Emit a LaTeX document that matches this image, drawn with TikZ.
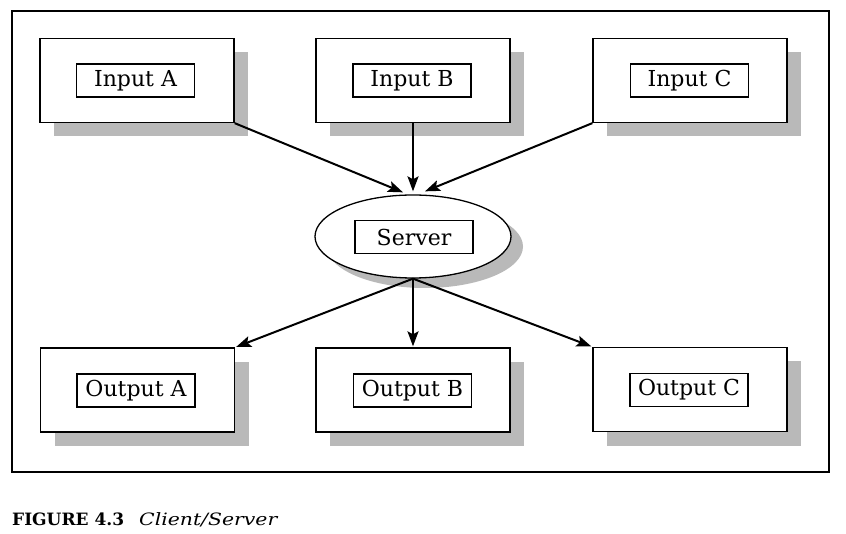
\documentclass[tikz,border=0pt]{standalone}
\usepackage{fontspec}
\setmainfont{DejaVu Serif}
\usetikzlibrary{arrows.meta,shapes.geometric,calc,shadows}
\begin{document}
\begin{tikzpicture}[x=1pt,y=-1pt,
  shad/.style={drop shadow={shadow xshift=14pt, shadow yshift=-14pt, fill=gray!55, opacity=1}},
  outerbox/.style={draw, line width=1.3pt, fill=white, minimum width=194pt, minimum height=84pt, inner sep=0pt, shad},
  innerbox/.style={draw, line width=1.1pt, fill=white, minimum width=118pt, minimum height=33pt, inner sep=0pt, font=\fontsize{22}{24}\selectfont},
  arr/.style={line width=2pt, -{Stealth[length=15pt,width=11pt,inset=3pt]}},
]
\useasboundingbox (0,0) rectangle (846,534);
\draw[line width=2pt] (12,11) rectangle (829,472);

% input boxes
\node[outerbox] (inA) at (137,80.5) {};
\node[outerbox] (inB) at (413,80.5) {};
\node[outerbox] (inC) at (690,80.5) {};
\node[innerbox] (inAl) at (135.5,80.5) {Input A};
\node[innerbox] (inBl) at (412,80.5) {Input B};
\node[innerbox] (inCl) at (689.5,80.5) {Input C};

% server
\node[ellipse, draw, line width=1.3pt, fill=white, minimum width=196pt, minimum height=83pt,
      drop shadow={shadow xshift=12pt, shadow yshift=-10pt, fill=gray!55, opacity=1}] (server) at (413,236.5) {};
\node[innerbox] (serverl) at (414,237) {Server};

% output boxes
\node[outerbox] (outA) at (137.5,390) {};
\node[outerbox] (outB) at (413,390) {};
\node[outerbox] (outC) at (690,389.5) {};
\node[innerbox] (outAl) at (136,390.5) {Output A};
\node[innerbox] (outBl) at (412.5,390.5) {Output B};
\node[innerbox] (outCl) at (689,390) {Output C};

% connectors
\coordinate (sa) at ($(server.north)+(-10,-2)$);
\coordinate (sb) at ($(server.north)+(0,-3)$);
\coordinate (sc) at ($(server.north)+(12,-3)$);
\draw[arr] (inA.south east) -- (sa);
\draw[arr] (inB.south) -- (sb);
\draw[arr] (inC.south west) -- (sc);
\draw[arr, shorten >=1pt] (server.south) -- (outA.north east);
\draw[arr, shorten >=1pt] (server.south) -- (outB.north);
\draw[arr, shorten >=1pt] (server.south) -- (outC.north west);

% caption
\node[anchor=base west, inner sep=0pt] (cap) at (12,525)
  {\fontsize{17}{20}\selectfont\textbf{FIGURE 4.3}\hspace{15pt}\scalebox{1.2}[1]{\textit{Client/Server}}};
\end{tikzpicture}
\end{document}
